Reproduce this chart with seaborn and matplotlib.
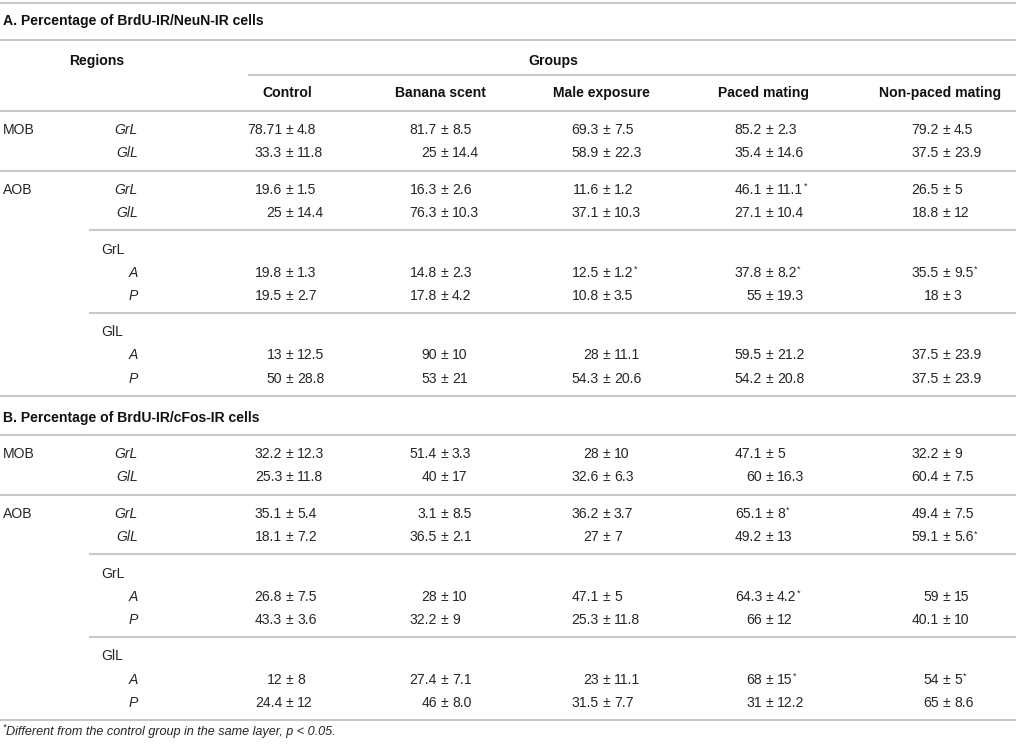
import matplotlib
matplotlib.use("Agg")
import matplotlib.pyplot as plt
import seaborn as sns

sns.set_theme(style="white")
plt.rcParams['font.family'] = ['Liberation Sans', 'DejaVu Sans']

# --- table content ---
title_a = "A. Percentage of BrdU-IR/NeuN-IR cells"
title_b = "B. Percentage of BrdU-IR/cFos-IR cells"
regions_label = "Regions"
groups_label = "Groups"
groups = ["Control", "Banana scent", "Male exposure", "Paced mating", "Non-paced mating"]
footnote = "Different from the control group in the same layer, p < 0.05."

row_region = ["MOB", "", "AOB", "", "", "", "", "", "", ""]
row_layer = ["GrL", "GlL", "GrL", "GlL", "GrL", "A", "P", "GlL", "A", "P"]
row_is_sub = [False, False, False, False, True, False, False, True, False, False]
block_sizes = [2, 2, 3, 3]

a_values = [
    ["78.71±4.8", "81.7±8.5", "69.3±7.5", "85.2±2.3", "79.2±4.5"],
    ["33.3±11.8", "25±14.4", "58.9±22.3", "35.4±14.6", "37.5±23.9"],
    ["19.6±1.5", "16.3±2.6", "11.6±1.2", "46.1±11.1*", "26.5±5"],
    ["25±14.4", "76.3±10.3", "37.1±10.3", "27.1±10.4", "18.8±12"],
    None,
    ["19.8±1.3", "14.8±2.3", "12.5±1.2*", "37.8±8.2*", "35.5±9.5*"],
    ["19.5±2.7", "17.8±4.2", "10.8±3.5", "55±19.3", "18±3"],
    None,
    ["13±12.5", "90±10", "28±11.1", "59.5±21.2", "37.5±23.9"],
    ["50±28.8", "53±21", "54.3±20.6", "54.2±20.8", "37.5±23.9"],
]

b_values = [
    ["32.2±12.3", "51.4±3.3", "28±10", "47.1±5", "32.2±9"],
    ["25.3±11.8", "40±17", "32.6±6.3", "60±16.3", "60.4±7.5"],
    ["35.1±5.4", "3.1±8.5", "36.2±3.7", "65.1±8*", "49.4±7.5"],
    ["18.1±7.2", "36.5±2.1", "27±7", "49.2±13", "59.1±5.6*"],
    None,
    ["26.8±7.5", "28±10", "47.1±5", "64.3±4.2*", "59±15"],
    ["43.3±3.6", "32.2±9", "25.3±11.8", "66±12", "40.1±10"],
    None,
    ["12±8", "27.4±7.1", "23±11.1", "68±15*", "54±5*"],
    ["24.4±12", "46±8.0", "31.5±7.7", "31±12.2", "65±8.6"],
]

# --- layout (pixels) ---
W, H = 1016, 745
FS = 10.1
TXT = "#262626"
BOLD = "#111111"
LINE = "#c8c8c8"
head_x = [287, 440, 601, 764, 940]
pm_x = [289, 444, 606, 769, 946]
ROW = 23.1

fig = plt.figure(figsize=(W / 100, H / 100), dpi=100)
ax = fig.add_axes([0, 0, 1, 1])
ax.set_xlim(0, W)
ax.set_ylim(H, 0)
ax.axis("off")


def hline(y, x0=0):
    ax.plot([x0, W], [y, y], color=LINE, lw=1.5, solid_capstyle="butt")


def put(x, y, s, ha="left", weight="normal", style="normal", size=FS):
    color = BOLD if weight == "bold" else TXT
    return ax.text(x, y + 5, s, ha=ha, va="baseline", fontsize=size,
                   fontweight=weight, fontstyle=style, color=color)


def cell(col, y, s):
    star = s.endswith("*")
    mean, sd = s.rstrip("*").split("±")
    put(pm_x[col] - 7, y, mean, ha="right")
    put(pm_x[col], y, "±", ha="center")
    t = put(pm_x[col] + 8, y, sd)
    if star:
        ax.annotate("*", xy=(1, 1), xycoords=t, xytext=(0.6, 0.5),
                    textcoords="offset points", ha="left", va="top",
                    fontsize=6.5, color=TXT)


def section(values, y_line):
    y = y_line
    i = 0
    for b, n in enumerate(block_sizes):
        y_text = y + 18.2
        for k in range(n):
            yy = y_text + k * ROW
            if row_region[i]:
                put(3, yy, row_region[i])
            if row_is_sub[i]:
                put(101, yy, row_layer[i])
            else:
                put(138, yy, row_layer[i], ha="right", style="italic")
            if values[i] is not None:
                for c, s in enumerate(values[i]):
                    cell(c, yy, s)
            i += 1
        y = y_text + (n - 1) * ROW + 18.4
        last = b == len(block_sizes) - 1
        hline(y, 0 if (b == 0 or last) else 89)
    return y


# section A header
hline(3)
put(3, 20, title_a, weight="bold")
hline(40)
put(97, 60, regions_label, ha="center", weight="bold")
put(553, 60, groups_label, ha="center", weight="bold")
hline(75, 248)
for x, g in zip(head_x, groups):
    put(x, 92, g, ha="center", weight="bold")
hline(111)
y_end = section(a_values, 111)

# section B
y_title = y_end + 21
put(3, y_title, title_b, weight="bold")
hline(y_title + 18)
y_end = section(b_values, y_title + 18)

# footnote
y_fn = y_end + 11
ax.text(2, y_fn - 4, "*", fontsize=6.5, fontstyle="italic", color=TXT, va="center")
put(6, y_fn - 0.5, footnote, style="italic", size=9.1)

fig.savefig("out.png", dpi=100)
